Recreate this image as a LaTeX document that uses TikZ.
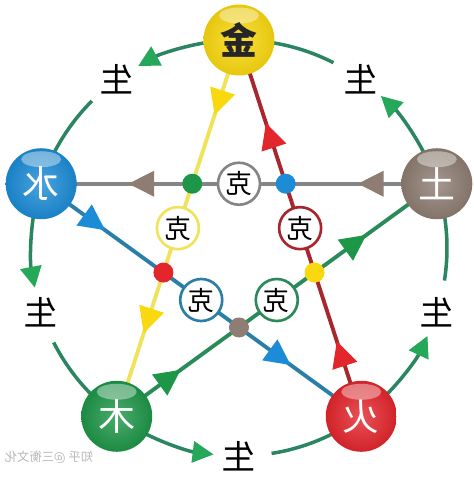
\documentclass[tikz,border=0pt]{standalone}
\usepackage{fontspec}
\newfontfamily\cjk{Noto Sans CJK SC}
\usetikzlibrary{arrows.meta,decorations.markings,backgrounds}
\definecolor{jinyellow}{HTML}{FAD810}
\definecolor{shuiblue}{HTML}{1C8CD6}
\definecolor{tubrown}{HTML}{8E7D72}
\definecolor{mugreen}{HTML}{1E9648}
\definecolor{huored}{HTML}{E3262C}
\definecolor{shengline}{HTML}{2B8560}
\definecolor{shengarrow}{HTML}{26A85A}
\definecolor{yellowline}{HTML}{F0E25A}
\definecolor{redline}{HTML}{A8262E}
\definecolor{grayline}{HTML}{858585}
\definecolor{blueline}{HTML}{2A7EA8}
\definecolor{greenline}{HTML}{2A8A5A}
\begin{document}
\begin{tikzpicture}
[
ball/.style={circle,minimum size=1.42cm,inner sep=0pt,text=white,
  shading=radial,inner color=#1!80!white,outer color=#1!92!black,
  path picture={\fill[white,opacity=0.4] ([yshift=-0.22cm]path picture bounding box.north)
    ellipse (0.4cm and 0.16cm);},
  font=\cjk\fontsize{21}{21}\selectfont},
kecircle/.style={circle,draw=#1,line width=1.5pt,fill=white,minimum size=0.84cm,
  inner sep=0pt,font=\cjk\fontsize{15}{15}\selectfont},
dot/.style={circle,fill=#1,minimum size=0.4cm,inner sep=0pt},
keline/.style 2 args={draw=#1,line width=2.2pt,postaction={decorate},
  decoration={markings,
  mark=at position 0.2 with {\arrow{Triangle[length=0.52cm,width=0.5cm,color=#2]}},
  mark=at position 0.78 with {\arrow{Triangle[length=0.52cm,width=0.5cm,color=#2]}}}},
sheng/.style={draw=shengline,line width=2pt},
shengtip/.style={-{Triangle[length=0.42cm,width=0.42cm,color=shengarrow]}},
shengtext/.style={font=\cjk\fontsize{19}{19}\selectfont}
]
\def\R{4.16}
\useasboundingbox (-4.78,-4.58) rectangle (4.70,4.96);

\node[ball=jinyellow,text=black!85] (jin) at (90:\R) {\reflectbox{\bfseries 金}};
\node[ball=shuiblue] (shui) at (162:\R) {\reflectbox{水}};
\node[ball=mugreen] (mu) at (234:\R) {\reflectbox{木}};
\node[ball=huored] (huo) at (306:\R) {\reflectbox{火}};
\node[ball=tubrown] (tu) at (18:\R) {\reflectbox{土}};

\foreach \a/\c in {90/grayline,162/yellowline,18/redline,234/blueline,306/greenline} {
  \node[kecircle=\c] (ke\a) at (\a:0.309*\R) {\reflectbox{克}};
}
\foreach \a/\c in {126/mugreen,54/shuiblue,198/huored,342/jinyellow,270/tubrown} {
  \node[dot=\c] (dot\a) at (\a:0.382*\R) {};
}

\foreach \a in {90,162,234,306,378} {
  \node[shengtext] (sheng\a) at ({\a+36}:\R) {\reflectbox{生}};
}

\begin{scope}[on background layer]
\draw[keline={yellowline}{jinyellow}] (jin.center) -- (mu.center);
\draw[keline={redline}{huored}] (huo.center) -- (jin.center);
\draw[keline={grayline}{tubrown}] (tu.center) -- (shui.center);
\draw[keline={blueline}{shuiblue}] (shui.center) -- (huo.center);
\draw[keline={greenline}{mugreen}] (mu.center) -- (tu.center);
\foreach \a in {90,162,234,306,378} {
  \draw[sheng,shengtip] ({\a+9}:\R) arc[start angle=\a+9,end angle=\a+29,radius=\R];
  \draw[sheng] ({\a+45}:\R) arc[start angle=\a+45,end angle=\a+63,radius=\R];
}
\end{scope}

\node[text=black!28,font=\cjk\fontsize{7}{7}\selectfont] (mark) at (-3.8,-4.18)
  {\reflectbox{知乎 @三衡文化}};
\end{tikzpicture}
\end{document}
